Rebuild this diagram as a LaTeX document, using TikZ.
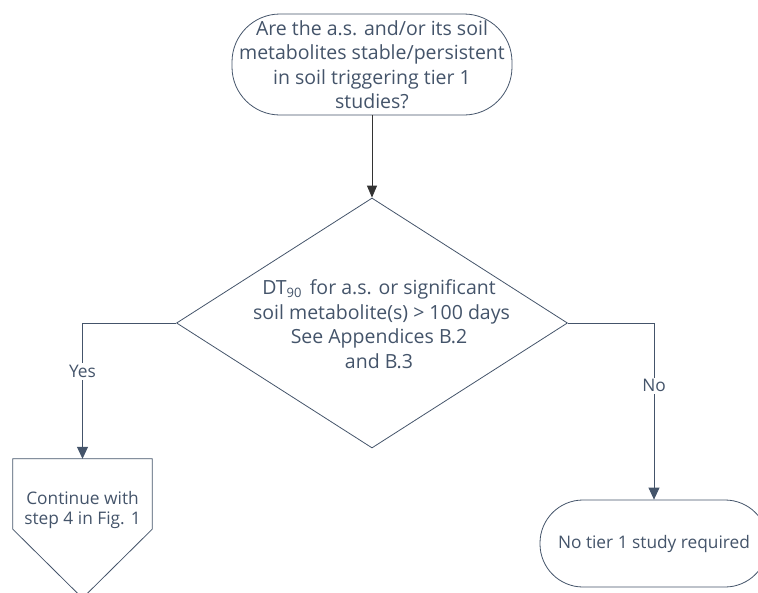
\documentclass[tikz,border=0pt]{standalone}
\usepackage{fontspec}
\setmainfont{Open Sans}
\usetikzlibrary{shapes.geometric,arrows.meta,calc}
\definecolor{slate}{HTML}{44546A}
\tikzset{
  txt/.style={text=slate, font=\fontsize{17.3}{20}\selectfont, align=center, inner sep=0pt},
  bigtxt/.style={text=slate, font=\fontsize{19.5}{24.5}\selectfont, align=center, inner sep=0pt},
  stadium/.style={draw=slate, line width=0.8pt, rounded corners=#1, fill=white},
  conn/.style={draw=slate, line width=0.8pt, -{Triangle[length=12pt,width=11pt]}},
  lbl/.style={txt, fill=white, inner sep=2pt},
}
\begin{document}
\begin{tikzpicture}[x=1pt,y=-1pt]
\useasboundingbox (0,0) rectangle (758,592);
\begin{scope}
\clip (0,0) rectangle (758,592);
% top terminator
\node[stadium=48pt, minimum width=280pt, minimum height=101pt, inner sep=0pt] (q) at (372,64.5) {};
\node[bigtxt] (qt) at (372,64.5) {Are the a.s. and/or its soil\\metabolites stable/persistent\\in soil triggering tier 1\\studies?};
% decision
\node[diamond, draw=slate, line width=0.8pt, minimum width=391pt, minimum height=250pt, inner sep=0pt] (d) at (372,323) {};
\node[bigtxt] (dt) at (379,324) {DT\raisebox{-3pt}{\fontsize{13}{13}\selectfont 90}\, for a.s. or significant\\\ soil metabolite(s) > 100 days\\See Appendices B.2\\and B.3};
% pentagon (off-page connector)
\node[txt, minimum width=139pt, minimum height=70pt] (p) at (82.5,494) {};
\draw[draw=slate, line width=0.8pt] ($(p.north west)$) -- ($(p.north east)$) -- ($(p.south east)$) -- ($(p.south)+(0,69)$) -- ($(p.south west)$) -- cycle;
\node[txt] (pt) at (82.5,510) {Continue with\\step 4 in Fig. 1};
% bottom right terminator
\node[stadium=43pt, minimum width=228pt, minimum height=87pt, inner sep=0pt] (n) at (654,543.5) {};
\node[txt] (nt) at (654,543.5) {No tier 1 study required};
\end{scope}
% connectors
\draw[line width=0.8pt, draw=black!80, -{Triangle[length=12pt,width=10pt]}] (q.south) -- (d.north);
\draw[conn] (d.west) -| (p.north) node[lbl, pos=0.678] {Yes};
\draw[conn] (d.east) -| (n.north) node[lbl, pos=0.678] {No};
\end{tikzpicture}
\end{document}
